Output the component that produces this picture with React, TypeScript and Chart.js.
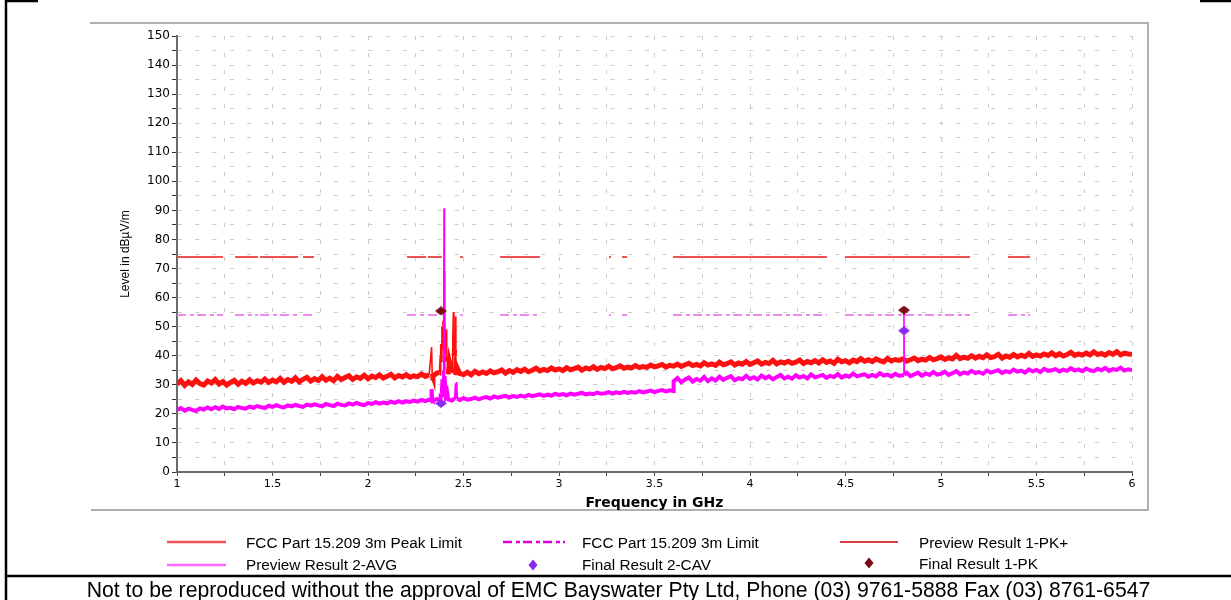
import React, { useEffect, useRef } from "react";
import { Chart, registerables } from "chart.js";

Chart.register(...registerables);

// ---- sweep (Preview results), 1.00 .. 6.00 GHz, step 0.02 GHz ----
const SWEEP_START = 1.0;
const SWEEP_STEP = 0.02;

// Preview Result 1-PK+ (dBµV/m)
const pkValues = [
  30.2, 31.4, 29.8, 31.0, 30.1, 31.6, 30.4, 29.9, 31.3, 30.6,
  31.8, 30.3, 31.1, 29.9, 30.8, 31.5, 30.2, 31.2, 30.5, 31.7,
  30.6, 31.4, 30.9, 32.0, 30.8, 31.6, 31.0, 32.2, 30.9, 31.8,
  31.2, 32.4, 31.0, 31.9, 32.6, 31.3, 32.1, 31.5, 32.8, 31.6,
  32.3, 31.4, 32.9, 31.8, 32.5, 33.1, 31.9, 32.7, 32.2, 33.3,
  32.1, 33.0, 32.5, 33.4, 32.3, 32.9, 33.6, 32.4, 33.2, 32.7,
  33.5, 32.6, 33.1, 32.8, 33.7, 32.9, 33.4, 33.0, 34.0, 33.2,
  34.5, 33.6, 34.2, 33.3, 33.9, 33.5, 34.3, 33.4, 34.6, 33.8,
  34.4, 33.9, 34.8, 34.1, 34.5, 35.1, 34.0, 34.9, 34.3, 35.2,
  34.6, 35.4, 34.5, 35.0, 35.7, 34.8, 35.3, 34.9, 35.8, 35.1,
  35.5, 34.9, 35.9, 35.2, 35.6, 36.1, 35.0, 35.8, 35.4, 36.2,
  35.3, 36.0, 35.6, 36.4, 35.5, 35.9, 36.5, 35.7, 36.1, 35.8,
  36.6, 35.9, 36.3, 36.0, 36.8, 36.2, 36.5, 37.0, 36.1, 36.7,
  36.4, 37.1, 36.3, 36.9, 37.4, 36.6, 37.0, 36.5, 37.6, 36.8,
  37.2, 36.7, 37.8, 36.9, 37.3, 37.9, 36.8, 37.5, 37.1, 38.0,
  37.0, 37.6, 38.2, 37.1, 37.7, 37.3, 38.4, 37.2, 37.9, 37.5,
  38.1, 37.4, 37.8, 38.5, 37.3, 38.0, 37.6, 38.3, 37.5, 38.6,
  37.7, 38.2, 37.4, 38.8, 37.9, 38.3, 37.6, 38.5, 38.0, 39.0,
  38.1, 38.6, 38.0, 38.9, 38.3, 37.9, 39.1, 38.2, 38.7, 38.4,
  38.9, 38.1, 38.6, 39.2, 38.3, 38.8, 38.5, 39.4, 38.6, 39.0,
  39.6, 38.7, 39.3, 38.9, 40.1, 39.0, 39.5, 39.1, 40.0, 39.2,
  39.8, 39.3, 40.3, 39.4, 39.7, 40.5, 39.2, 39.9, 39.5, 40.4,
  39.6, 40.2, 39.7, 40.8, 39.8, 40.3, 39.9, 40.6, 40.1, 41.0,
  40.0, 40.7, 39.9, 40.4, 41.2, 40.1, 40.6, 40.2, 40.9, 40.3,
  41.3, 40.4, 40.8, 40.2, 41.1, 40.5, 41.4, 40.3, 40.9, 40.6,
  40.5,
];

// extra PK+ samples in the 2.4 GHz band
const pkSpikeFreq = [2.333, 2.336, 2.374, 2.378, 2.381, 2.384, 2.387, 2.390, 2.393, 2.396, 2.398, 2.401, 2.403, 2.406, 2.409, 2.412, 2.416, 2.426, 2.444, 2.447, 2.450, 2.454, 2.457, 2.462];
const pkSpikeVal = [43.0, 33.8, 34.2, 40.0, 44.0, 38.0, 50.0, 42.0, 52.0, 45.0, 69.0, 48.0, 53.0, 41.0, 49.0, 38.0, 39.5, 38.0, 46.0, 55.0, 40.0, 42.0, 53.5, 36.5];

// Preview Result 2-AVG (dBµV/m)
const avgValues = [
  21.3, 22.0, 21.1, 21.8, 21.4, 21.0, 21.9, 21.5, 22.2, 21.6,
  22.3, 21.7, 22.5, 21.9, 22.1, 21.6, 22.4, 22.0, 21.8, 22.5,
  22.1, 22.7, 22.3, 22.0, 22.8, 22.4, 23.0, 22.5, 22.2, 22.9,
  22.6, 23.1, 22.7, 22.4, 23.2, 22.8, 23.3, 22.9, 22.6, 23.4,
  23.0, 22.7, 23.5, 23.1, 22.9, 23.6, 23.2, 23.8, 23.3, 23.0,
  23.7, 23.4, 24.0, 23.5, 23.9, 23.6, 24.2, 23.8, 24.4, 23.9,
  24.3, 24.1, 24.6, 24.2, 24.8, 24.4, 24.9, 24.5, 25.1, 24.7,
  25.3, 25.0, 24.6, 25.2, 24.8, 25.4, 24.9, 25.1, 25.6, 25.0,
  25.5, 25.8, 25.3, 26.0, 25.6, 25.9, 26.2, 25.7, 26.1, 25.8,
  26.3, 25.9, 26.5, 26.1, 26.4, 26.7, 26.2, 26.6, 26.3, 26.9,
  26.5, 26.8, 26.4, 27.0, 26.6, 26.9, 27.2, 26.7, 27.0, 26.8,
  27.3, 26.9, 27.1, 27.5, 27.0, 27.4, 27.1, 27.6, 27.2, 27.5,
  27.3, 27.8, 27.4, 27.7, 28.0, 27.5, 27.9, 28.2, 27.7, 28.1,
  31.2, 32.3, 30.9, 31.8, 32.5, 31.1, 32.0, 31.4, 32.7, 31.3,
  32.2, 31.5, 32.8, 31.7, 32.4, 33.0, 31.6, 32.3, 31.9, 33.1,
  32.0, 32.6, 31.8, 33.2, 32.3, 32.9, 31.9, 32.7, 33.4, 32.2,
  32.8, 32.1, 33.3, 32.5, 33.0, 32.2, 33.6, 32.6, 32.9, 33.4,
  32.4, 33.1, 32.7, 33.7, 32.5, 33.2, 32.8, 33.9, 32.9, 33.3,
  33.6, 32.8, 33.4, 32.9, 34.0, 33.2, 33.5, 32.9, 33.8, 33.1,
  33.3, 34.1, 33.0, 33.6, 34.2, 33.1, 33.9, 33.4, 34.4, 33.5,
  33.8, 34.5, 33.4, 34.0, 34.7, 33.6, 34.3, 33.9, 34.8, 34.0,
  34.4, 33.8, 34.9, 34.2, 34.6, 35.0, 34.1, 34.7, 34.3, 35.2,
  34.5, 34.9, 34.2, 35.3, 34.6, 35.1, 34.4, 35.5, 34.8, 35.0,
  35.4, 34.6, 35.2, 34.8, 35.7, 34.9, 35.3, 34.7, 35.6, 35.0,
  34.7, 35.5, 35.0, 35.8, 34.8, 35.4, 35.1, 35.9, 34.9, 35.3,
  35.0,
];

// extra AVG samples in the 2.4 GHz band, at the 3.6 GHz step and at 4.8 GHz
const avgSpikeFreq = [2.330, 2.333, 2.336, 2.380, 2.384, 2.388, 2.392, 2.396, 2.398, 2.401, 2.404, 2.408, 2.414, 2.454, 2.458, 2.461, 2.464, 2.468, 3.598, 4.804, 4.806, 4.808];
const avgSpikeVal = [24.6, 28.5, 24.7, 27.0, 32.0, 26.0, 35.0, 30.0, 90.7, 33.0, 29.0, 26.5, 27.5, 25.4, 30.5, 26.0, 31.0, 25.2, 27.9, 33.4, 54.5, 33.6];

// ---- limits ----
const PEAK_LIMIT = 74;
const AVG_LIMIT = 54;
const limitSegments = [
  [1.0, 1.241], [1.304, 1.424], [1.435, 1.634], [1.66, 1.717],
  [2.204, 2.304], [2.314, 2.387], [2.482, 2.497], [2.691, 2.901],
  [3.262, 3.272], [3.33, 3.356], [3.597, 4.403], [4.497, 5.152], [5.351, 5.466],
];

// ---- final results ----
const finalFreq = [2.382, 4.806];
const finalPK = [55.4, 55.7];
const finalCAV = [23.6, 48.6];

// ---- axes ----
const X_MIN = 1, X_MAX = 6, X_STEP = 0.25;
const Y_MIN = 0, Y_MAX = 150, Y_STEP = 5;

const COL_PEAK_LIMIT = "#ee5252";
const COL_AVG_LIMIT = "#f088f0";
const COL_PK = "#ff1010";
const COL_AVG = "#ff00ff";
const COL_FINAL_PK = "#7a0a14";
const COL_FINAL_CAV = "#8a2cf0";

function buildTrace(values: number[], sf: number[], sv: number[]) {
  const pts = values.map((v, i) => ({ x: +(SWEEP_START + i * SWEEP_STEP).toFixed(3), y: v }));
  sf.forEach((f, i) => pts.push({ x: f, y: sv[i] }));
  pts.sort((a, b) => a.x - b.x);
  return pts;
}

function buildLimit(level: number) {
  const pts: { x: number; y: number | null }[] = [];
  limitSegments.forEach(([a, b]) => {
    pts.push({ x: a, y: level }, { x: b, y: level }, { x: b + 0.0001, y: null });
  });
  return pts;
}

function diamond(w: number, h: number, color: string) {
  const c = document.createElement("canvas");
  c.width = w;
  c.height = h;
  const g = c.getContext("2d")!;
  g.fillStyle = color;
  g.beginPath();
  g.moveTo(w / 2, 0);
  g.lineTo(w, h / 2);
  g.lineTo(w / 2, h);
  g.lineTo(0, h / 2);
  g.closePath();
  g.fill();
  return c;
}

// thick noise band, thin spikes
const segWidth = (thick: number) => (c: any) =>
  Math.abs(c.p1.parsed.y - c.p0.parsed.y) > 4.5 ? 1.6 : thick;

const decorPlugin = {
  id: "decor",
  beforeDraw(chart: any) {
    const ctx = chart.ctx;
    ctx.save();
    ctx.fillStyle = "#ffffff";
    ctx.fillRect(0, 0, chart.width, chart.height);
    // plot frame
    ctx.strokeStyle = "#b0b0b0";
    ctx.lineWidth = 2;
    ctx.beginPath();
    ctx.moveTo(90, 23);
    ctx.lineTo(1148, 23);
    ctx.lineTo(1148, 510);
    ctx.lineTo(91, 510);
    ctx.stroke();
    // page frame
    ctx.strokeStyle = "#000";
    ctx.lineWidth = 2.5;
    ctx.beginPath();
    ctx.moveTo(6, 0);
    ctx.lineTo(6, 600);
    ctx.moveTo(5, 1);
    ctx.lineTo(38, 1);
    ctx.moveTo(1200, 1);
    ctx.lineTo(1231, 1);
    ctx.moveTo(5, 576);
    ctx.lineTo(1231, 576);
    ctx.stroke();
    ctx.restore();
  },
  afterDraw(chart: any) {
    const ctx = chart.ctx;
    ctx.save();
    const line = (x1: number, x2: number, y: number, color: string, w: number, dash: number[]) => {
      ctx.strokeStyle = color;
      ctx.lineWidth = w;
      ctx.setLineDash(dash);
      ctx.beginPath();
      ctx.moveTo(x1, y);
      ctx.lineTo(x2, y);
      ctx.stroke();
    };
    line(167, 226, 542, COL_PEAK_LIMIT, 2.5, []);
    line(503, 565, 542, "#e000e0", 2.5, [9, 4, 4, 3]);
    line(840, 898, 542, "#c80000", 1.5, []);
    line(167, 226, 565, "#ff66ff", 2.5, []);
    ctx.setLineDash([]);
    const dm = (cx: number, cy: number, w: number, h: number, color: string) => {
      ctx.fillStyle = color;
      ctx.beginPath();
      ctx.moveTo(cx, cy - h / 2);
      ctx.lineTo(cx + w / 2, cy);
      ctx.lineTo(cx, cy + h / 2);
      ctx.lineTo(cx - w / 2, cy);
      ctx.closePath();
      ctx.fill();
    };
    dm(533, 565, 9, 11, COL_FINAL_CAV);
    dm(869, 563, 9, 11, COL_FINAL_PK);
    ctx.restore();
  },
};

export default function App() {
  const ref = useRef<HTMLCanvasElement | null>(null);

  useEffect(() => {
    if (!ref.current) return;
    const pkStyle = diamond(12, 9, COL_FINAL_PK);
    const cavStyle = diamond(12, 9, COL_FINAL_CAV);
    const chart = new Chart(ref.current, {
      type: "line",
      data: {
        datasets: [
          {
            label: "Final Result 1-PK",
            data: finalFreq.map((f, i) => ({ x: f, y: finalPK[i] })),
            showLine: false,
            pointStyle: pkStyle as any,
            pointRadius: 5,
            borderColor: COL_FINAL_PK,
            backgroundColor: COL_FINAL_PK,
            order: 0,
          },
          {
            label: "Final Result 2-CAV",
            data: finalFreq.map((f, i) => ({ x: f, y: finalCAV[i] })),
            showLine: false,
            pointStyle: cavStyle as any,
            pointRadius: 5,
            borderColor: COL_FINAL_CAV,
            backgroundColor: COL_FINAL_CAV,
            order: 1,
          },
          {
            label: "Preview Result 2-AVG",
            data: buildTrace(avgValues, avgSpikeFreq, avgSpikeVal),
            borderColor: COL_AVG,
            borderWidth: 4,
            segment: { borderWidth: segWidth(4) },
            pointRadius: 0,
            tension: 0,
            order: 2,
          },
          {
            label: "Preview Result 1-PK+",
            data: buildTrace(pkValues, pkSpikeFreq, pkSpikeVal),
            borderColor: COL_PK,
            borderWidth: 5,
            segment: { borderWidth: segWidth(5) },
            pointRadius: 0,
            tension: 0,
            order: 3,
          },
          {
            label: "FCC Part 15.209 3m Limit",
            data: buildLimit(AVG_LIMIT) as any,
            borderColor: COL_AVG_LIMIT,
            borderWidth: 2,
            borderDash: [9, 4, 4, 3],
            pointRadius: 0,
            spanGaps: false,
            order: 4,
          },
          {
            label: "FCC Part 15.209 3m Peak Limit",
            data: buildLimit(PEAK_LIMIT) as any,
            borderColor: COL_PEAK_LIMIT,
            borderWidth: 2,
            pointRadius: 0,
            spanGaps: false,
            order: 5,
          },
        ],
      },
      options: {
        animation: false,
        responsive: false,
        events: [],
        layout: { padding: { left: 90, top: 36, right: 99, bottom: 88 } },
        plugins: { legend: { display: false }, tooltip: { enabled: false } },
        scales: {
          x: {
            type: "linear",
            min: X_MIN,
            max: X_MAX,
            afterFit: (s: any) => {
              s.height = 40;
            },
            ticks: {
              stepSize: X_STEP,
              autoSkip: false,
              maxRotation: 0,
              padding: 2,
              color: "#000",
              font: { family: "DejaVu Sans", size: 11 },
              callback: (v: any) => (Number.isInteger(v * 2) ? String(v) : ""),
            },
            grid: {
              color: "#cccccc",
              lineWidth: 1,
              tickLength: 4,
              tickColor: "#444",
              tickWidth: 1,
            },
            border: { color: "#6a6a6a", width: 2, dash: [4, 13] },
            title: {
              display: true,
              text: "Frequency in GHz",
              color: "#000",
              font: { family: "DejaVu Sans", size: 14, weight: "bold" },
              padding: { top: 0, bottom: 0 },
            },
          },
          y: {
            type: "linear",
            min: Y_MIN,
            max: Y_MAX,
            afterFit: (s: any) => {
              s.width = 87;
            },
            ticks: {
              stepSize: Y_STEP,
              autoSkip: false,
              padding: 2,
              color: "#000",
              font: { family: "DejaVu Sans", size: 12 },
              callback: (v: any) => (v % 10 === 0 ? String(v) : ""),
            },
            grid: {
              color: "#cccccc",
              lineWidth: 1,
              tickLength: 5,
              tickColor: "#333",
              tickWidth: 1,
            },
            border: { color: "#6a6a6a", width: 2, dash: [4, 13.3] },
            title: {
              display: true,
              text: "Level in dBµV/m",
              color: "#000",
              font: { family: "Liberation Sans", size: 12 },
              padding: { top: 28, bottom: 0 },
            },
          },
        },
      },
      plugins: [decorPlugin],
    } as any);
    return () => chart.destroy();
  }, []);

  const txt: React.CSSProperties = {
    position: "absolute",
    fontFamily: "'Liberation Sans', Arial, sans-serif",
    fontSize: "15.3px",
    lineHeight: "18px",
    color: "#000",
    whiteSpace: "nowrap",
  };

  return (
    <div style={{ position: "absolute", left: 0, top: 0, width: 1231, height: 600, background: "#fff" }}>
      <canvas ref={ref} width={1231} height={600} style={{ position: "absolute", left: 0, top: 0 }} />
      <div style={{ ...txt, left: 246, top: 534 }}>FCC Part 15.209 3m Peak Limit</div>
      <div style={{ ...txt, left: 582, top: 534 }}>FCC Part 15.209 3m Limit</div>
      <div style={{ ...txt, left: 919, top: 534 }}>Preview Result 1-PK+</div>
      <div style={{ ...txt, left: 246, top: 556 }}>Preview Result 2-AVG</div>
      <div style={{ ...txt, left: 582, top: 556 }}>Final Result 2-CAV</div>
      <div style={{ ...txt, left: 919, top: 555 }}>Final Result 1-PK</div>
      <div
        style={{
          ...txt,
          left: 3,
          width: 1231,
          top: 578,
          fontSize: "21.2px",
          lineHeight: "24px",
          textAlign: "center",
        }}
      >
        Not to be reproduced without the approval of EMC Bayswater Pty Ltd, Phone (03) 9761-5888 Fax (03) 8761-6547
      </div>
    </div>
  );
}
